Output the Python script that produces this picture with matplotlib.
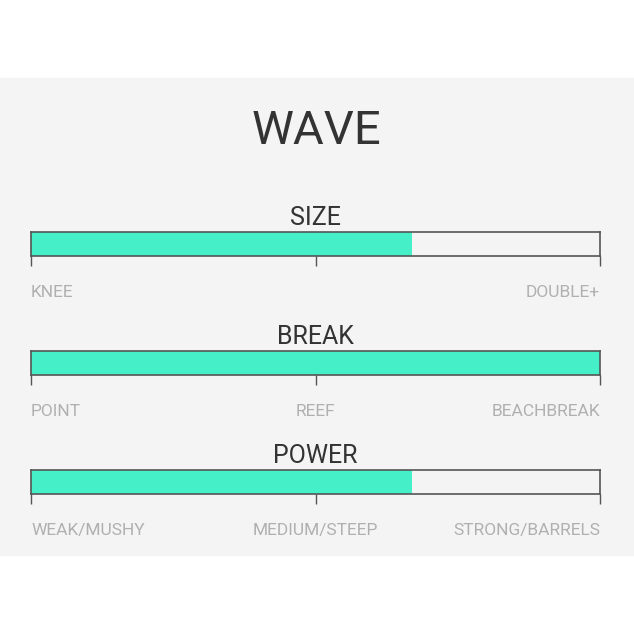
import matplotlib.pyplot as plt
from matplotlib.patches import Rectangle

# ratings (0 = left end, 100 = right end)
categories = ['SIZE', 'BREAK', 'POWER']
values = [67, 100, 67]
tick_pos = [0, 50, 100]
scale_labels = [['KNEE', '', 'DOUBLE+'],
                ['POINT', 'REEF', 'BEACHBREAK'],
                ['WEAK/MUSHY', 'MEDIUM/STEEP', 'STRONG/BARRELS']]
title = 'WAVE'

W = H = 634.0
bg = '#f4f4f4'
fill = '#45efc8'
edge = '#555555'

plt.rcParams['font.family'] = ['Roboto', 'DejaVu Sans']

fig = plt.figure(figsize=(6.34, 6.34), dpi=100)
fig.patch.set_facecolor('white')
fig.patches.append(Rectangle((0, 1 - 555 / H), 1, (555 - 78) / H,
                             transform=fig.transFigure, color=bg, zorder=-5))

fig.text(316 / W, 1 - 131 / H, title, ha='center', va='center',
         fontsize=34, color='#333333')

bar_tops = [232, 351, 470]
aligns = ['left', 'center', 'right']
for cat, val, labels, top in zip(categories, values, scale_labels, bar_tops):
    ax = fig.add_axes([31 / W, 1 - (top + 24) / H, 569 / W, 24 / H])
    ax.set_zorder(2)
    ax.set_facecolor(bg)
    ax.barh(0, val, height=1, left=0, color=fill, edgecolor='none')
    ax.set_xlim(0, 100)
    ax.set_ylim(-0.5, 0.5)
    ax.set_yticks([])
    ax.set_xticks(tick_pos)
    ax.tick_params(axis='x', length=7.5, width=1, color=edge,
                   labelbottom=False)
    for s in ax.spines.values():
        s.set_color(edge)
        s.set_linewidth(1.2)
    ax.text(0.5, 1.08, cat, transform=ax.transAxes, ha='center', va='bottom',
            fontsize=18, color='#333333')
    for pos, lbl, al in zip(tick_pos, labels, aligns):
        if lbl:
            ax.annotate(lbl, xy=(pos, 0), xycoords=('data', 'axes fraction'),
                        xytext=(0, -37), textcoords='offset pixels',
                        ha=al, va='center', fontsize=12.5, color='#b0b0b0',
                        annotation_clip=False)

fig.savefig('out.png', dpi=100, facecolor=fig.get_facecolor())
